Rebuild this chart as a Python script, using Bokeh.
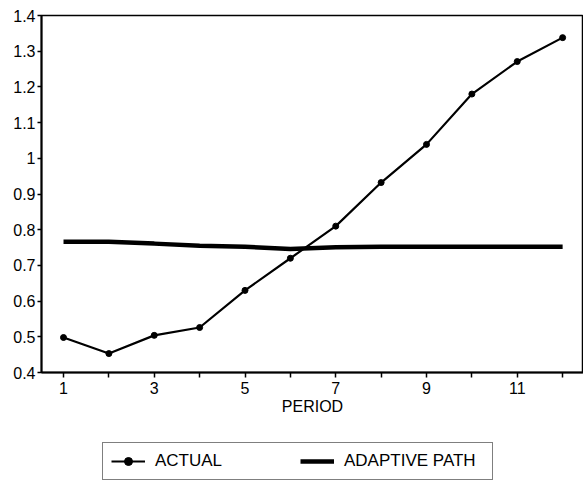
from bokeh.plotting import figure
from bokeh.layouts import column
from bokeh.models import FixedTicker, Legend, LegendItem, Range1d
from bokeh.embed import file_html
from bokeh.resources import INLINE

# ---- data ----
period = [1, 2, 3, 4, 5, 6, 7, 8, 9, 10, 11, 12]
actual = [0.498, 0.453, 0.504, 0.526, 0.630, 0.720, 0.810, 0.932, 1.039, 1.180, 1.271, 1.338]
adaptive = [0.766, 0.766, 0.761, 0.755, 0.752, 0.746, 0.751, 0.752, 0.752, 0.752, 0.752, 0.752]

x_ticks = [1, 2, 3, 4, 5, 6, 7, 8, 9, 10, 11, 12]
x_tick_labels = ["1", "", "3", "", "5", "", "7", "", "9", "", "11", ""]
y_ticks = [0.4, 0.5, 0.6, 0.7, 0.8, 0.9, 1.0, 1.1, 1.2, 1.3, 1.4]
y_tick_labels = ["0.4", "0.5", "0.6", "0.7", "0.8", "0.9", "1", "1.1", "1.2", "1.3", "1.4"]
series_names = ["ACTUAL", "ADAPTIVE PATH"]

FONT = "Liberation Sans"
ACTUAL_STYLE = dict(line_color="black", line_width=2.2)
MARKER_STYLE = dict(marker="circle", size=6, fill_color="black", line_color="black")
ADAPT_STYLE = dict(line_color="black", line_width=4.5)

p = figure(width=583, height=422,
           x_range=Range1d(0.515, 12.46), y_range=Range1d(0.4, 1.4),
           output_backend="svg", toolbar_location=None,
           min_border_left=41, min_border_right=0, min_border_top=15, min_border_bottom=50)

p.xgrid.visible = False
p.ygrid.visible = False
p.outline_line_color = "black"
p.outline_line_width = 1.5
p.background_fill_color = "white"
p.border_fill_color = "white"

p.line(period, actual, **ACTUAL_STYLE)
p.scatter(period, actual, **MARKER_STYLE)
p.line(period, adaptive, **ADAPT_STYLE)

# axes
for ax in (p.xaxis[0], p.yaxis[0]):
    ax.axis_line_color = "black"
    ax.axis_line_width = 2
    ax.major_tick_line_color = "black"
    ax.major_tick_line_width = 1.5
    ax.minor_tick_line_color = None
    ax.major_label_text_font = FONT
    ax.major_label_text_color = "black"
    ax.major_label_text_font_size = "16px"

p.xaxis.ticker = FixedTicker(ticks=x_ticks)
p.xaxis.major_label_overrides = {t: s for t, s in zip(x_ticks, x_tick_labels)}
p.xaxis.major_tick_in = 0
p.xaxis.major_tick_out = 5
p.xaxis.major_label_standoff = 4
p.xaxis.axis_label = "PERIOD"
p.xaxis.axis_label_text_font = FONT
p.xaxis.axis_label_text_font_style = "normal"
p.xaxis.axis_label_text_font_size = "16px"
p.xaxis.axis_label_text_color = "black"
p.xaxis.axis_label_standoff = 1

p.yaxis.ticker = FixedTicker(ticks=y_ticks)
p.yaxis.major_label_overrides = {t: s for t, s in zip(y_ticks, y_tick_labels)}
p.yaxis.major_tick_in = 0
p.yaxis.major_tick_out = 4
p.yaxis.major_label_standoff = 2

# ---- legend strip below the chart (its own renderers sit outside its view) ----
lf = figure(width=583, height=60, x_range=Range1d(100, 101), y_range=Range1d(100, 101),
            output_backend="svg", toolbar_location=None,
            x_axis_location=None, y_axis_location=None,
            min_border_left=0, min_border_right=0, min_border_top=0, min_border_bottom=0)
lf.outline_line_color = None
lf.grid.visible = False
lf.background_fill_color = "white"
lf.border_fill_color = "white"

k1 = lf.line(period, actual, **ACTUAL_STYLE)
k2 = lf.scatter(period, actual, **MARKER_STYLE)
k3 = lf.line(period, adaptive, **ADAPT_STYLE)

legend = Legend(items=[LegendItem(label=series_names[0], renderers=[k1, k2]),
                       LegendItem(label=series_names[1], renderers=[k3])],
                orientation="horizontal", location=(61, 2), margin=0,
                padding=8, spacing=5, glyph_width=34, glyph_height=20,
                label_standoff=10, label_width=140, label_height=20,
                label_text_font=FONT, label_text_font_size="17px",
                label_text_color="black",
                border_line_color="black", border_line_width=1.5,
                background_fill_color="white", background_fill_alpha=1)
lf.add_layout(legend, "center")

page = column(p, lf, spacing=0)
open("out.html", "w").write(file_html(page, INLINE))
